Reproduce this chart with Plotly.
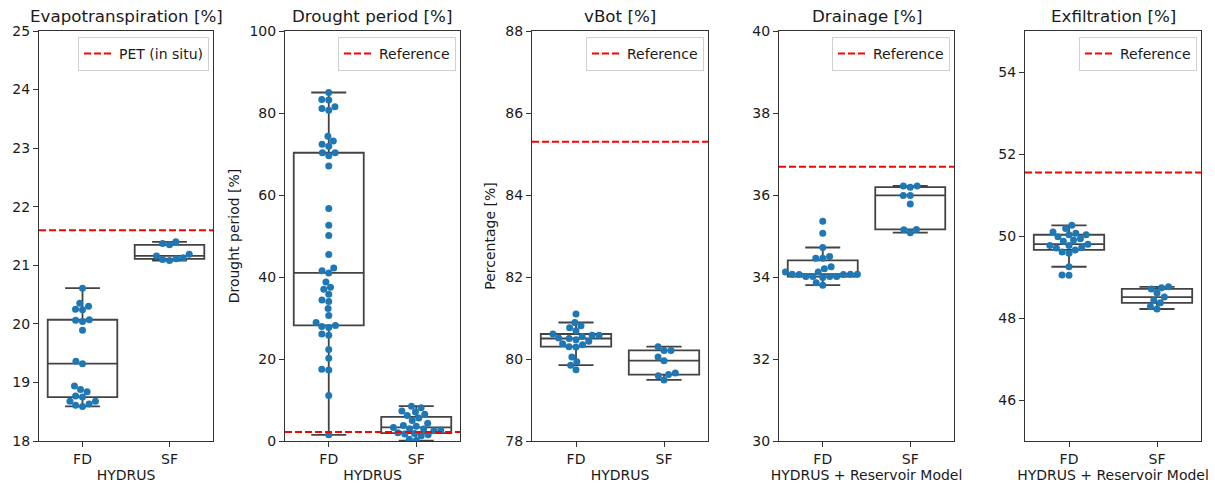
import numpy as np
import plotly.graph_objects as go

# ---------------- data ----------------
categories = ["FD", "SF"]

titles = ["Evapotranspiration [%]", "Drought period [%]", "vBot [%]",
          "Drainage [%]", "Exfiltration [%]"]
xlabels = ["HYDRUS", "HYDRUS", "HYDRUS",
           "HYDRUS + Reservoir Model", "HYDRUS + Reservoir Model"]
ylabels = ["", "Drought period [%]", "Percentage [%]", "", ""]
legend_names = ["PET (in situ)", "Reference", "Reference", "Reference", "Reference"]
reference_values = [21.6, 2.2, 85.3, 36.69, 51.55]
y_ranges = [(18, 25), (0, 100), (78, 88), (30, 40), (45, 55)]
y_dticks = [1, 20, 2, 2, 2]

et_fd = [20.61, 20.35, 20.30, 20.25, 20.24, 20.07, 20.06, 20.04, 19.89, 19.36, 19.32,
         18.94, 18.88, 18.84, 18.77, 18.75, 18.68, 18.68, 18.63, 18.61, 18.59]
et_sf = [21.40, 21.37, 21.35, 21.19, 21.16, 21.13, 21.11, 21.10, 21.08]

dr_fd = [85.0, 83.3, 83.2, 81.5, 81.1, 80.7, 74.3, 73.2, 72.4, 71.9, 70.3, 70.3, 69.6,
         67.1, 56.7, 52.6, 50.1, 45.5, 42.2, 41.5, 41.0, 38.8, 37.5, 37.0, 35.8, 34.4,
         34.0, 32.3, 30.6, 28.9, 28.2, 27.9, 27.7, 26.1, 25.8, 22.3, 20.2, 17.5, 17.3,
         11.1, 1.5]
dr_sf = [0.1, 0.4, 1.3, 1.5, 1.7, 1.8, 2.0, 2.5, 2.7, 2.9, 3.0, 3.3, 3.6, 3.8, 4.3,
         5.0, 5.6, 6.2, 6.5, 7.1, 7.3, 8.1, 8.5]

vb_fd = [81.10, 80.89, 80.81, 80.76, 80.69, 80.61, 80.58, 80.58, 80.55, 80.51, 80.50,
         80.47, 80.43, 80.37, 80.35, 80.30, 80.29, 80.05, 79.93, 79.85, 79.74]
vb_sf = [80.30, 80.21, 80.21, 80.05, 79.96, 79.66, 79.62, 79.59, 79.49]

dn_fd = [35.36, 35.07, 34.72, 34.50, 34.46, 34.46, 34.25, 34.20, 34.12, 34.12, 34.07,
         34.07, 34.07, 34.06, 34.06, 34.01, 34.01, 34.01, 34.01, 33.99, 33.86, 33.80]
dn_sf = [36.22, 36.22, 36.19, 35.99, 35.99, 35.78, 35.16, 35.15, 35.08]

ex_fd = [50.26, 50.18, 50.10, 50.07, 50.03, 50.03, 49.98, 49.93, 49.90, 49.87, 49.80,
         49.77, 49.77, 49.72, 49.71, 49.66, 49.61, 49.58, 49.25, 49.05, 49.04]
ex_sf = [48.76, 48.74, 48.71, 48.61, 48.51, 48.43, 48.37, 48.28, 48.22]

series = [(et_fd, et_sf), (dr_fd, dr_sf), (vb_fd, vb_sf), (dn_fd, dn_sf), (ex_fd, ex_sf)]

# ---------------- layout geometry ----------------
W, H = 1215, 488
panels_px = [(39, 213), (285, 460), (532, 708), (779, 954), (1025, 1201)]
top_px, bot_px = 31, 441
ydom = [(H - bot_px) / H, (H - top_px) / H]

FONT = "DejaVu Sans"
TXT = "#1a1a1a"
BOX_LINE = "#434343"
DOT = "#1f77b4"
DOT_D = 7.0


def box_stats(vals):
    v = np.asarray(vals, float)
    q1, med, q3 = np.percentile(v, [25, 50, 75])
    iqr = q3 - q1
    lo = v[v >= q1 - 1.5 * iqr].min()
    hi = v[v <= q3 + 1.5 * iqr].max()
    return q1, med, q3, lo, hi


def swarm_offsets(vals, ypx_per_unit, xpx_per_unit, d=DOT_D):
    v = np.asarray(vals, float)
    order = np.argsort(v, kind="stable")
    ypx = v * ypx_per_unit
    placed = []
    xs = np.zeros(len(v))
    for i in order:
        y = ypx[i]
        nb = [(px, py) for px, py in placed if abs(py - y) < d]
        cands = [0.0]
        for px, py in nb:
            dx = np.sqrt(d * d - (py - y) ** 2)
            cands += [px - dx, px + dx]
        cands.sort(key=lambda c: (abs(c), c))
        for c in cands:
            if all((c - px) ** 2 + (y - py) ** 2 >= d * d - 1e-6 for px, py in nb):
                xs[i] = c
                placed.append((c, y))
                break
    return xs / xpx_per_unit


fig = go.Figure()
layout = dict(
    width=W, height=H, template="none",
    margin=dict(l=0, r=0, t=0, b=0),
    paper_bgcolor="white", plot_bgcolor="white",
    font=dict(family=FONT, size=14, color=TXT),
    showlegend=True,
)
annotations = []

for k in range(5):
    ax = "" if k == 0 else str(k + 1)
    xref, yref = "x" + ax, "y" + ax
    leg = "legend" + ax
    x0, x1 = panels_px[k]
    ymin, ymax = y_ranges[k]
    ypx_per_unit = (bot_px - top_px) / (ymax - ymin)
    xpx_per_unit = (x1 - x0) / 2.0

    for ci, vals in enumerate(series[k]):
        q1, med, q3, lo, hi = box_stats(vals)
        fig.add_trace(go.Box(
            x=[ci], q1=[q1], median=[med], q3=[q3], lowerfence=[lo], upperfence=[hi],
            width=0.8, whiskerwidth=0.5, fillcolor="white",
            line=dict(color=BOX_LINE, width=1.8), boxpoints=False,
            xaxis=xref, yaxis=yref, showlegend=False, hoverinfo="skip"))
    for ci, vals in enumerate(series[k]):
        offs = swarm_offsets(vals, ypx_per_unit, xpx_per_unit)
        fig.add_trace(go.Scatter(
            x=ci + offs, y=vals, mode="markers",
            marker=dict(color=DOT, size=DOT_D, line=dict(width=0)),
            xaxis=xref, yaxis=yref, showlegend=False, hoverinfo="skip"))
    fig.add_trace(go.Scatter(
        x=[-0.5, 1.5], y=[reference_values[k]] * 2, mode="lines",
        line=dict(color="red", width=2, dash="7px,3px"),
        name=legend_names[k], xaxis=xref, yaxis=yref, legend=leg))

    axcommon = dict(showline=True, linecolor="#333333", linewidth=1, mirror=True,
                    ticks="outside", ticklen=5, tickwidth=1, tickcolor="#333333",
                    showgrid=False, zeroline=False, automargin=False,
                    tickfont=dict(family=FONT, size=14, color=TXT))
    layout["xaxis" + ax] = dict(
        axcommon, domain=[x0 / W, x1 / W], range=[-0.5, 1.5],
        tickvals=[0, 1], ticktext=categories, anchor=yref,
        title=dict(text=xlabels[k], font=dict(family=FONT, size=14, color=TXT), standoff=4))
    layout["yaxis" + ax] = dict(
        axcommon, domain=ydom, range=[ymin, ymax], dtick=y_dticks[k], tick0=0,
        anchor=xref,
        title=dict(text=ylabels[k], font=dict(family=FONT, size=14, color=TXT), standoff=6))
    layout[leg] = dict(
        x=(x1 - 4) / W, xanchor="right", y=(H - 37) / H, yanchor="top",
        bgcolor="rgba(255,255,255,0.85)", bordercolor="#d0d0d0", borderwidth=1,
        font=dict(family=FONT, size=14, color=TXT), itemwidth=30,
        tracegroupgap=0)
    annotations.append(dict(
        text=titles[k], x=(x0 + x1) / 2 / W, y=(H - 16) / H, xref="paper", yref="paper",
        xanchor="center", yanchor="middle", showarrow=False,
        font=dict(family=FONT, size=16.7, color=TXT)))

layout["annotations"] = annotations
fig.update_layout(**layout)
fig.write_html("out.html", config={"displayModeBar": False},
               post_script="document.body.style.margin='0';document.body.style.padding='0';")
